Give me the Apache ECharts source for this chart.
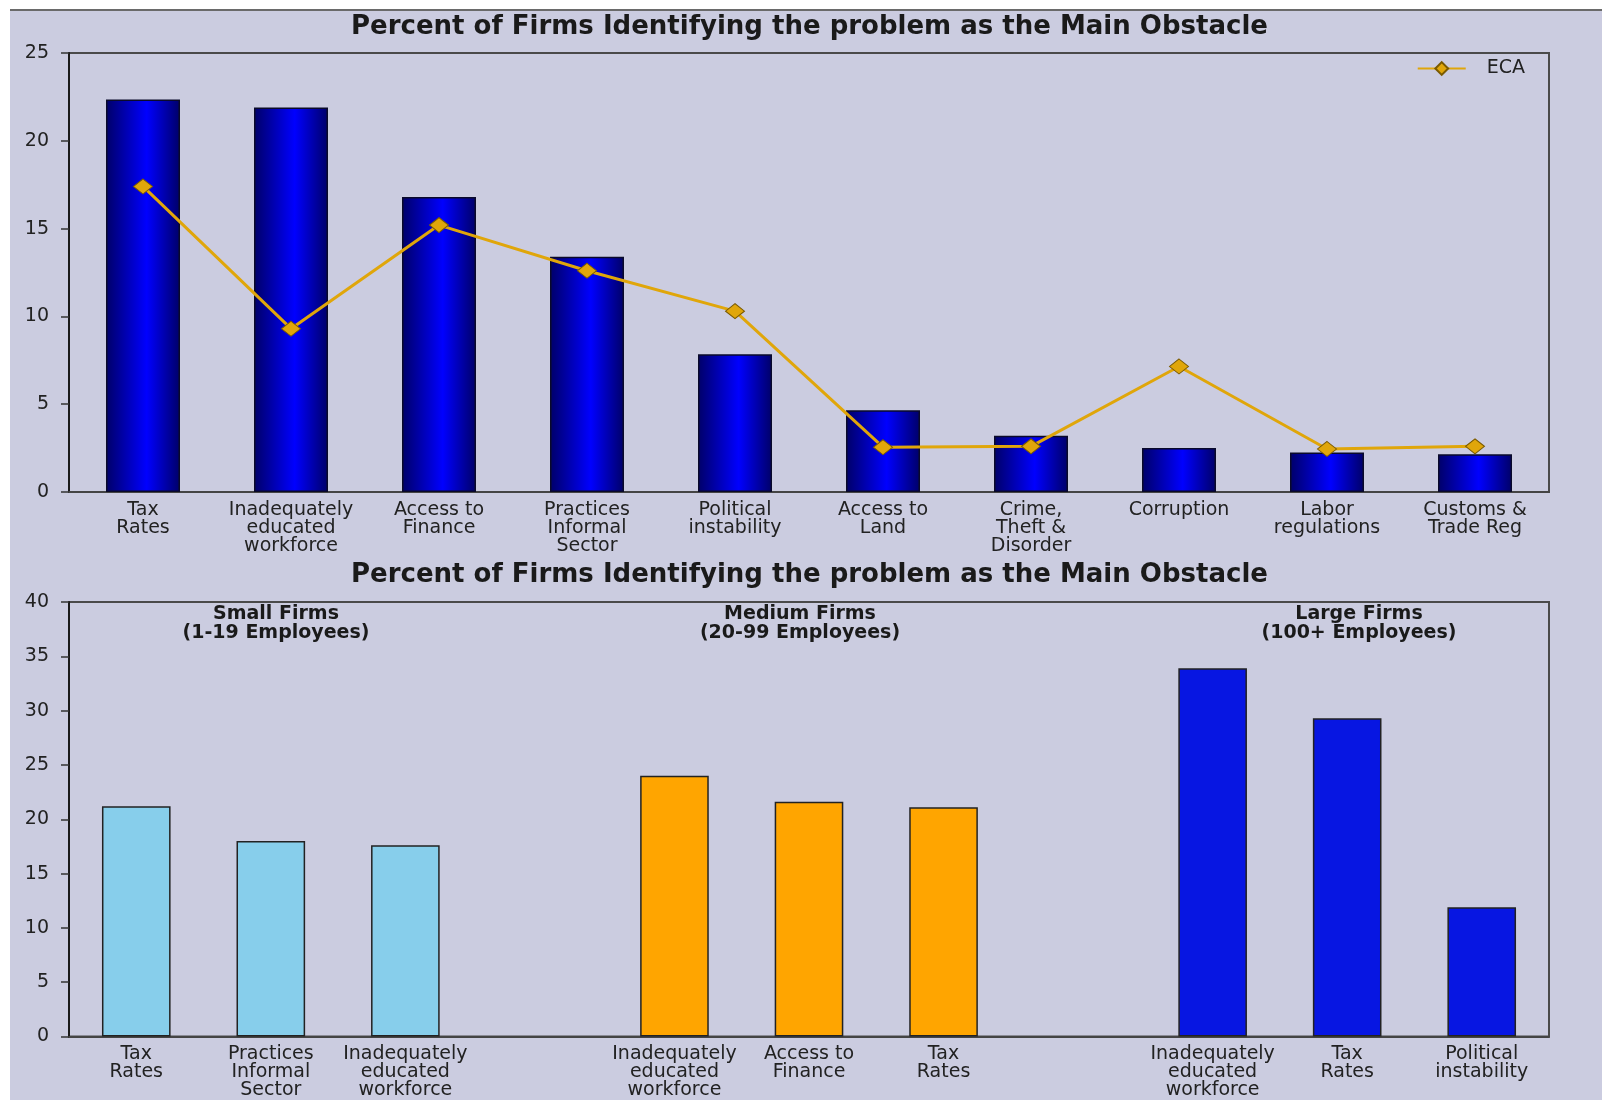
<!DOCTYPE html>
<html><head><meta charset="utf-8">
<script src="https://cdn.jsdelivr.net/npm/echarts@6/dist/echarts.min.js"></script>
<style>
html,body{margin:0;padding:0;background:#fff;}
#bg{position:absolute;left:10px;top:9px;width:1592px;height:1091px;background:#cbcce0;border-top:2px solid #6a6a6a;box-sizing:border-box;}
#chart{position:absolute;left:0;top:0;width:1602px;height:1100px;}
</style></head><body>
<div id="bg"></div><div id="chart"></div>
<script>
const titleText = 'Percent of Firms Identifying the problem as the Main Obstacle';
const topCategories = ['Tax\nRates', 'Inadequately\neducated\nworkforce', 'Access to\nFinance', 'Practices\nInformal\nSector', 'Political\ninstability', 'Access to\nLand', 'Crime,\nTheft &\nDisorder', 'Corruption', 'Labor\nregulations', 'Customs &\nTrade Reg'];
const countryValues = [22.35, 21.9, 16.8, 13.4, 7.85, 4.65, 3.2, 2.5, 2.25, 2.15];
const ecaValues = [17.4, 9.3, 15.2, 12.6, 10.3, 2.55, 2.6, 7.15, 2.45, 2.6];
const topTicks = [0, 5, 10, 15, 20, 25];

const smallCategories = ['Tax\nRates', 'Practices\nInformal\nSector', 'Inadequately\neducated\nworkforce'];
const smallValues = [21.2, 18.0, 17.6];
const mediumCategories = ['Inadequately\neducated\nworkforce', 'Access to\nFinance', 'Tax\nRates'];
const mediumValues = [24.0, 21.6, 21.1];
const largeCategories = ['Inadequately\neducated\nworkforce', 'Tax\nRates', 'Political\ninstability'];
const largeValues = [33.9, 29.3, 11.9];
const groupLabels = ['Small Firms\n(1-19 Employees)', 'Medium Firms\n(20-99 Employees)', 'Large Firms\n(100+ Employees)'];
const bottomTicks = [0, 5, 10, 15, 20, 25, 30, 35, 40];

const groupColors = ['#87ceeb', '#ffa500', '#0716e2'];

const bottomCategories = [].concat(smallCategories, [''], mediumCategories, [''], largeCategories);
function items(vals, color) { return vals.map(v => ({ value: v, itemStyle: { color: color } })); }
const bottomData = [].concat(items(smallValues, groupColors[0]), ['-'], items(mediumValues, groupColors[1]), ['-'], items(largeValues, groupColors[2]));

const font = 'DejaVu Sans';
const txt = '#222';
const chart = echarts.init(document.getElementById('chart'));

function yAxis(gi, ticks) {
  return {
    type: 'value', gridIndex: gi, min: ticks[0], max: ticks[ticks.length - 1], interval: ticks[1] - ticks[0],
    splitLine: { show: false },
    axisLine: { show: true, lineStyle: { color: '#1a1a1a', width: 2 } },
    axisTick: { show: true, length: 8, lineStyle: { color: '#333', width: 1.5 } },
    axisLabel: { color: txt, fontFamily: font, fontSize: 19, margin: 20 }
  };
}
function xAxis(gi, cats) {
  return {
    type: 'category', gridIndex: gi, data: cats,
    axisLine: { show: true, lineStyle: { color: '#444', width: 2 } },
    axisTick: { show: false },
    axisLabel: { interval: 0, color: txt, fontFamily: font, fontSize: 19, lineHeight: 18, margin: 9, hideOverlap: false }
  };
}

chart.setOption({
  animation: false,
  backgroundColor: 'transparent',
  title: [
    { text: titleText, left: 346, top: 9, textStyle: { fontFamily: font, fontSize: 26, fontWeight: 'bold', color: '#1a1a1a' } },
    { text: titleText, left: 346, top: 557, textStyle: { fontFamily: font, fontSize: 26, fontWeight: 'bold', color: '#1a1a1a' } }
  ],
  legend: {
    data: ['ECA'], right: 72, top: 54, itemWidth: 48, itemHeight: 16, itemGap: 10,
    textStyle: { fontFamily: font, fontSize: 19, color: txt, padding: [0, 0, 0, 16] }
  },
  grid: [
    { left: 69, right: 53, top: 53, height: 439, show: true, borderColor: '#4a4a4a', borderWidth: 2, backgroundColor: 'transparent' },
    { left: 69, right: 53, top: 602, height: 439, show: true, borderColor: '#4a4a4a', borderWidth: 2, backgroundColor: 'transparent' }
  ],
  xAxis: [xAxis(0, topCategories), xAxis(1, bottomCategories)],
  yAxis: [yAxis(0, topTicks), yAxis(1, bottomTicks)],
  graphic: groupLabels.map((t, i) => ({
    type: 'text', x: [276, 800, 1359][i], y: 605, z: 10,
    style: { text: t, textAlign: 'center', fontFamily: font, fontSize: 19, fontWeight: 'bold', lineHeight: 19, fill: '#1a1a1a' }
  })),
  series: [
    {
      name: 'Country', type: 'bar', xAxisIndex: 0, yAxisIndex: 0, data: countryValues, barWidth: '50%',
      itemStyle: {
        color: new echarts.graphic.LinearGradient(0, 0, 1, 0, [
          { offset: 0, color: '#000068' }, { offset: 0.55, color: '#0000ff' }, { offset: 1, color: '#000068' }
        ]),
        borderColor: '#0a0a2a', borderWidth: 1.5
      }
    },
    {
      name: 'ECA', type: 'line', xAxisIndex: 0, yAxisIndex: 0, data: ecaValues,
      symbol: 'diamond', symbolSize: [19, 15],
      lineStyle: { color: '#e0a60a', width: 3 },
      itemStyle: { color: '#e0a60a', borderColor: '#7a5a00', borderWidth: 1 },
      z: 5
    },
    {
      name: 'Firm size', type: 'bar', xAxisIndex: 1, yAxisIndex: 1, data: bottomData, barWidth: '51%',
      itemStyle: { borderColor: '#222', borderWidth: 1.5 }
    }
  ]
});
</script>
</body></html>
